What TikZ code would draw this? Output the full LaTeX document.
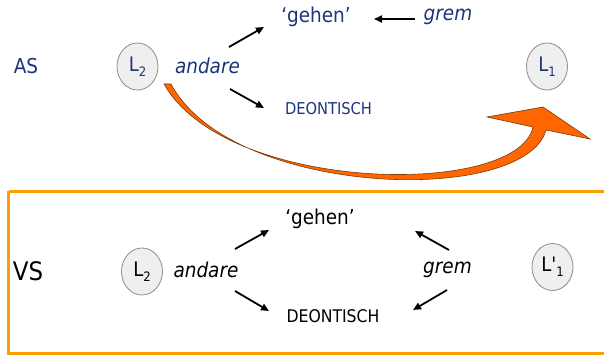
\documentclass[tikz,border=0pt]{standalone}
\usepackage{fontspec}
\setmainfont{DejaVu Sans Condensed}
\usetikzlibrary{shapes.geometric,arrows.meta}
\definecolor{navy}{HTML}{1C3578}
\definecolor{boxorange}{HTML}{FF9C00}
\definecolor{arrorange}{HTML}{FF6600}
\definecolor{arredge}{HTML}{7A3A10}
\definecolor{circfill}{HTML}{EFEFEF}
\definecolor{circline}{HTML}{8C8C8C}
\newcommand\lowsub[1]{\raisebox{-0.45ex}{\fontsize{13}{13}\selectfont #1}}
\begin{document}
\begin{tikzpicture}[x=1pt,y=-1pt,
  lnode/.style={ellipse,draw=circline,fill=circfill,line width=0.8pt,minimum width=41pt,minimum height=47pt,inner sep=0pt,font=\fontsize{20}{22}\selectfont},
  word/.style={inner sep=0pt,font=\fontsize{20.5}{22}\selectfont},
  iword/.style={word,font=\fontsize{20.5}{22}\selectfont\itshape},
  caps/.style={inner sep=0pt},
  link/.style={line width=1.8pt,-{Triangle[length=8pt,width=7pt]}}
]
\useasboundingbox (0,0) rectangle (604,355);
% ---------- top (AS) ----------
\node[word,text=navy] (as) at (26,66) {AS};
\node[lnode,text=navy] (l2a) at (137.5,66.5) {L\lowsub{2}};
\node[iword,text=navy] (anda) at (207.5,66) {andare};
\node[word,text=navy] (geha) at (316,17) {`gehen'};
\node[iword,text=navy] (grema) at (448,17) {grem};
\node[caps,text=navy,font=\fontsize{16.3}{18}\selectfont] (deona) at (328.5,109) {DEONTISCH};
\node[lnode,text=navy] (l1a) at (547,66.5) {L\lowsub{1}};
\coordinate (a1s) at (229,47); \coordinate (a1e) at (264,27);
\coordinate (a2s) at (230,89); \coordinate (a2e) at (264,108);
\coordinate (a3s) at (415,19); \coordinate (a3e) at (374,19);
\draw[link] (a1s) -- (a1e);
\draw[link] (a2s) -- (a2e);
\draw[link] (a3s) -- (a3e);
% big orange arrow
\draw[fill=arrorange,draw=arredge,line width=0.6pt,line join=miter]
  (164,84) .. controls (226,194) and (518,198) .. (533,127)
  -- (487,117) -- (543,107) -- (590,139) -- (546,130)
  .. controls (525,206) and (232,198) .. (171,84) -- cycle;
% ---------- bottom (VS) ----------
\draw[boxorange,line width=3.6pt] (8.5,191.5) -- (620,191.5);
\draw[boxorange,line width=3.6pt] (8.5,191.5) -- (8.5,353.5) -- (620,353.5);
\node[word,font=\fontsize{25.5}{27}\selectfont] (vs) at (28,271) {VS};
\node[lnode] (l2b) at (142,271.5) {L\lowsub{2}};
\node[iword] (andb) at (206,270) {andare};
\node[word] (gehb) at (320,219) {`gehen'};
\node[iword] (gremb) at (447.5,270) {grem};
\node[caps,font=\fontsize{17.4}{19}\selectfont] (deonb) at (333,316.5) {DEONTISCH};
\node[lnode] (l1b) at (552.5,267) {L\textquotesingle\lowsub{1}};
\coordinate (b1s) at (235,249); \coordinate (b1e) at (269,230);
\coordinate (b2s) at (235,291); \coordinate (b2e) at (269,311);
\coordinate (b3s) at (449,250); \coordinate (b3e) at (415,231);
\coordinate (b4s) at (447,290); \coordinate (b4e) at (413,310);
\draw[link] (b1s) -- (b1e);
\draw[link] (b2s) -- (b2e);
\draw[link] (b3s) -- (b3e);
\draw[link] (b4s) -- (b4e);
\end{tikzpicture}
\end{document}
